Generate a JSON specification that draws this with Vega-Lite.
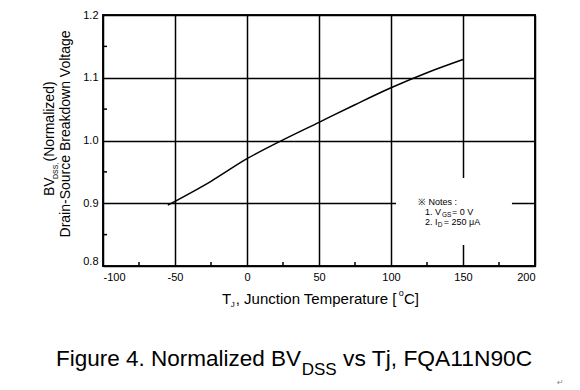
{
  "$schema": "https://vega.github.io/schema/vega-lite/v6.json",
  "width": 432,
  "height": 251,
  "autosize": "none",
  "padding": {"left": 103, "top": 15, "right": 45, "bottom": 124},
  "background": "white",
  "config": {
    "view": {"stroke": "#111", "strokeWidth": 2},
    "font": "Liberation Sans",
    "text": {"font": "Liberation Sans", "color": "black"}
  },
  "layer": [
    {
      "data": {"values": [
        {"Tj": -55, "BV": 0.897},
        {"Tj": -25, "BV": 0.935},
        {"Tj": 0, "BV": 0.971},
        {"Tj": 25, "BV": 1.001},
        {"Tj": 50, "BV": 1.029},
        {"Tj": 75, "BV": 1.057},
        {"Tj": 100, "BV": 1.084},
        {"Tj": 125, "BV": 1.108},
        {"Tj": 150, "BV": 1.129}
      ]},
      "mark": {"type": "line", "color": "black", "strokeWidth": 1.5, "interpolate": "monotone"},
      "encoding": {
        "x": {
          "field": "Tj", "type": "quantitative",
          "scale": {"domain": [-100, 200], "nice": false, "zero": false},
          "axis": {
            "title": null,
            "values": [-100, -50, 0, 50, 100, 150, 200],
            "labelExpr": "replace(datum.label, '\u2212', '-')",
            "labelFont": "Liberation Sans", "labelFontSize": 11, "labelColor": "black",
            "labelPadding": 5,
            "domain": false,
            "grid": true,
            "gridColor": "black", "gridWidth": 1.5,
            "ticks": false
          }
        },
        "y": {
          "field": "BV", "type": "quantitative",
          "scale": {"domain": [0.8, 1.2], "nice": false, "zero": false},
          "axis": {
            "title": null,
            "values": [0.8, 0.9, 1.0, 1.1, 1.2],
            "format": ".1f",
            "labelFont": "Liberation Sans", "labelFontSize": 11, "labelColor": "black",
            "labelPadding": 5,
            "labelBaseline": {"condition": {"test": "datum.value < 0.85", "value": "bottom"}, "value": "middle"},
            "domain": false,
            "grid": true,
            "gridColor": "black", "gridWidth": 1.5,
            "ticks": false
          }
        }
      }
    },
    {
      "data": {"values": [{"m": -75}, {"m": -25}, {"m": 25}, {"m": 75}, {"m": 125}, {"m": 175}]},
      "mark": {"type": "rule", "color": "black", "strokeWidth": 1.5},
      "encoding": {
        "x": {"field": "m", "type": "quantitative"},
        "y": {"datum": 0.8, "type": "quantitative"},
        "y2": {"datum": 0.8065}
      }
    },
    {
      "data": {"values": [{"n": 0.85}, {"n": 0.95}, {"n": 1.05}, {"n": 1.15}]},
      "mark": {"type": "rule", "color": "black", "strokeWidth": 1.5},
      "encoding": {
        "y": {"field": "n", "type": "quantitative"},
        "x": {"datum": -100, "type": "quantitative"},
        "x2": {"datum": -97.2}
      }
    },
    {
      "data": {"values": [{}]},
      "mark": {"type": "rect", "color": "white"},
      "encoding": {
        "x": {"datum": 103.5, "type": "quantitative"},
        "x2": {"datum": 184},
        "y": {"datum": 0.9402, "type": "quantitative"},
        "y2": {"datum": 0.8335}
      }
    },
    {
      "data": {"values": [
        {"txt": "※ Notes :", "tx": 118.75, "ty": 0.8972, "fs": "n"},
        {"txt": "1. V", "tx": 123.6, "ty": 0.8805, "fs": "n"},
        {"txt": "GS", "tx": 135.4, "ty": 0.8775, "fs": "s"},
        {"txt": "= 0 V", "tx": 142.4, "ty": 0.8805, "fs": "n"},
        {"txt": "2. I", "tx": 123.6, "ty": 0.8653, "fs": "n"},
        {"txt": "D", "tx": 132.4, "ty": 0.8623, "fs": "s"},
        {"txt": "= 250 μA", "tx": 136.6, "ty": 0.8653, "fs": "n"}
      ]},
      "mark": {"type": "text", "align": "left", "baseline": "alphabetic"},
      "encoding": {
        "x": {"field": "tx", "type": "quantitative"},
        "y": {"field": "ty", "type": "quantitative"},
        "text": {"field": "txt"},
        "size": {"field": "fs", "type": "nominal", "scale": {"domain": ["n", "s"], "range": [9, 6.5]}, "legend": null}
      }
    },
    {
      "data": {"values": [{}]},
      "mark": {"type": "text", "text": "BV", "angle": 270, "align": "left", "baseline": "middle", "fontSize": 14},
      "encoding": {"x": {"datum": -136.5, "type": "quantitative"}, "y": {"datum": 0.9115, "type": "quantitative"}}
    },
    {
      "data": {"values": [{}]},
      "mark": {"type": "text", "text": "DSS,", "angle": 270, "align": "left", "baseline": "middle", "fontSize": 7},
      "encoding": {"x": {"datum": -132.8, "type": "quantitative"}, "y": {"datum": 0.9386, "type": "quantitative"}}
    },
    {
      "data": {"values": [{}]},
      "mark": {"type": "text", "text": "(Normalized)", "angle": 270, "align": "left", "baseline": "middle", "fontSize": 14},
      "encoding": {"x": {"datum": -136.5, "type": "quantitative"}, "y": {"datum": 0.9665, "type": "quantitative"}}
    },
    {
      "data": {"values": [{}]},
      "mark": {"type": "text", "text": "Drain-Source Breakdown Voltage", "angle": 270, "align": "center", "baseline": "middle", "fontSize": 14},
      "encoding": {"x": {"datum": -126.0, "type": "quantitative"}, "y": {"datum": 1.0104, "type": "quantitative"}}
    },
    {
      "data": {"values": [{}]},
      "mark": {"type": "text", "text": "T", "align": "left", "baseline": "alphabetic", "fontSize": 15},
      "encoding": {"x": {"datum": -17.4, "type": "quantitative"}, "y": {"datum": 0.7394, "type": "quantitative"}}
    },
    {
      "data": {"values": [{}]},
      "mark": {"type": "text", "text": "J", "align": "left", "baseline": "alphabetic", "fontSize": 8},
      "encoding": {"x": {"datum": -11.3, "type": "quantitative"}, "y": {"datum": 0.7345, "type": "quantitative"}}
    },
    {
      "data": {"values": [{}]},
      "mark": {"type": "text", "text": ", Junction Temperature [", "align": "left", "baseline": "alphabetic", "fontSize": 15},
      "encoding": {"x": {"datum": -7.8, "type": "quantitative"}, "y": {"datum": 0.7394, "type": "quantitative"}}
    },
    {
      "data": {"values": [{}]},
      "mark": {"type": "text", "text": "o", "align": "left", "baseline": "alphabetic", "fontSize": 9},
      "encoding": {"x": {"datum": 105.4, "type": "quantitative"}, "y": {"datum": 0.752, "type": "quantitative"}}
    },
    {
      "data": {"values": [{}]},
      "mark": {"type": "text", "text": "C]", "align": "left", "baseline": "alphabetic", "fontSize": 15},
      "encoding": {"x": {"datum": 109.0, "type": "quantitative"}, "y": {"datum": 0.7394, "type": "quantitative"}}
    },
    {
      "data": {"values": [{}]},
      "mark": {"type": "text", "text": "Figure 4. Normalized BV", "align": "right", "baseline": "alphabetic", "fontSize": 22.5},
      "encoding": {"x": {"datum": 37.5, "type": "quantitative"}, "y": {"datum": 0.6406, "type": "quantitative"}}
    },
    {
      "data": {"values": [{}]},
      "mark": {"type": "text", "text": "DSS", "align": "left", "baseline": "alphabetic", "fontSize": 17},
      "encoding": {"x": {"datum": 38.0, "type": "quantitative"}, "y": {"datum": 0.6255, "type": "quantitative"}}
    },
    {
      "data": {"values": [{}]},
      "mark": {"type": "text", "text": "vs Tj, FQA11N90C", "align": "left", "baseline": "alphabetic", "fontSize": 22.8},
      "encoding": {"x": {"datum": 66.7, "type": "quantitative"}, "y": {"datum": 0.6406, "type": "quantitative"}}
    },
    {
      "data": {"values": [{}]},
      "mark": {"type": "text", "text": "↵", "align": "left", "baseline": "alphabetic", "fontSize": 8, "font": "DejaVu Sans", "color": "#888"},
      "encoding": {"x": {"datum": 215.3, "type": "quantitative"}, "y": {"datum": 0.6104, "type": "quantitative"}}
    }
  ]
}
